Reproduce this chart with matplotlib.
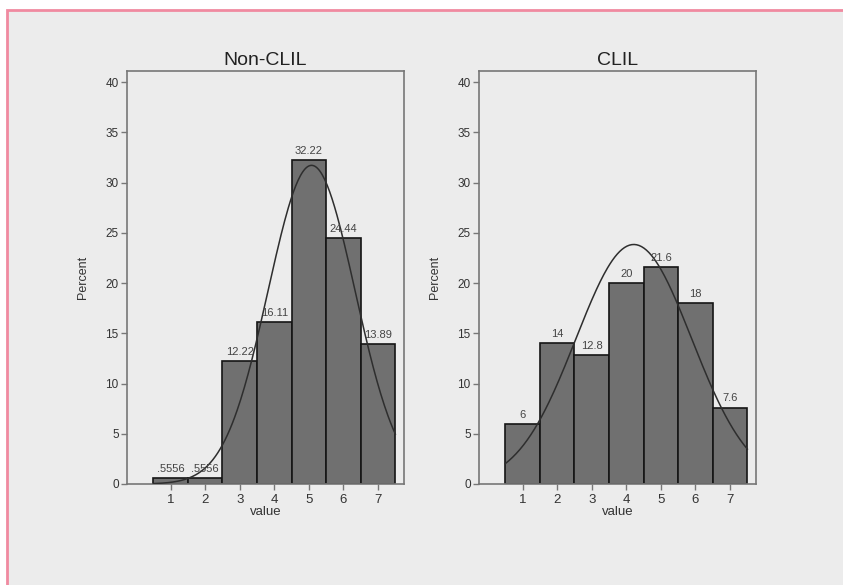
import numpy as np
import matplotlib.pyplot as plt
from matplotlib.patches import Rectangle

plt.rcParams['font.family'] = ['Liberation Sans', 'DejaVu Sans']

# data
values = [1, 2, 3, 4, 5, 6, 7]
non_clil = [0.5556, 0.5556, 12.22, 16.11, 32.22, 24.44, 13.89]
clil = [6, 14, 12.8, 20, 21.6, 18, 7.6]
titles = ['Non-CLIL', 'CLIL']
yticks = [0, 5, 10, 15, 20, 25, 30, 35, 40]

bg = '#ececec'
bar_col = '#707070'
spine_col = '#777777'
text_col = '#333333'


def fmt(v):
    s = f"{v:g}"
    if s.startswith('0.'):
        s = s[1:]
    return s


def normal_curve(pct):
    # normal fit from the binned percentages, scaled to percent per bin
    x = np.array(values, dtype=float)
    p = np.array(pct) / 100.0
    mu = (x * p).sum()
    sd = np.sqrt((p * (x - mu) ** 2).sum())
    xs = np.linspace(0.5, 7.5, 200)
    ys = 100 * np.exp(-0.5 * ((xs - mu) / sd) ** 2) / (sd * np.sqrt(2 * np.pi))
    return xs, ys


fig = plt.figure(figsize=(8.43, 5.85), dpi=100, facecolor='white')
W, H = 843, 585
# pink frame (only top and left edge are in view)
fig.patches.append(Rectangle((7 / W, -0.1), 1.1, (H - 10) / H + 0.1,
                             transform=fig.transFigure, facecolor=bg,
                             edgecolor='#f08aa0', linewidth=2, zorder=-1))

lefts = [127 / W, 479 / W]
for left, title, pct in zip(lefts, titles, [non_clil, clil]):
    ax = fig.add_axes([left, 101 / H, 277 / W, 413 / H])
    ax.set_facecolor(bg)
    ax.bar(values, pct, width=1, color=bar_col, edgecolor='#151515', linewidth=1.2, zorder=2)
    xs, ys = normal_curve(pct)
    ax.plot(xs, ys, color='#2e2e2e', linewidth=1.1, zorder=3)
    for v, p in zip(values, pct):
        ax.annotate(fmt(p), (v, p), xytext=(0, 3), textcoords='offset points',
                    ha='center', va='bottom', fontsize=8, color='#444444', zorder=4)
    ax.set_xlim(-0.26, 7.75)
    ax.set_ylim(0, 41.1)
    ax.set_xticks(values)
    ax.set_yticks(yticks)
    ax.tick_params(axis='x', labelsize=9.5, length=4, width=1, color=spine_col,
                   labelcolor=text_col, pad=3)
    ax.tick_params(axis='y', labelsize=8.5, length=4, width=1, color=spine_col,
                   labelcolor=text_col, pad=2)
    for s in ax.spines.values():
        s.set_color(spine_col)
        s.set_linewidth(1.2)
    ax.set_title(title, fontsize=14, color='#222222', pad=4)
    ax.set_xlabel('value', fontsize=9.5, color=text_col, labelpad=0)
    ax.set_ylabel('Percent', fontsize=9, color=text_col, labelpad=12)

fig.savefig('out.png', dpi=100, facecolor='white')
